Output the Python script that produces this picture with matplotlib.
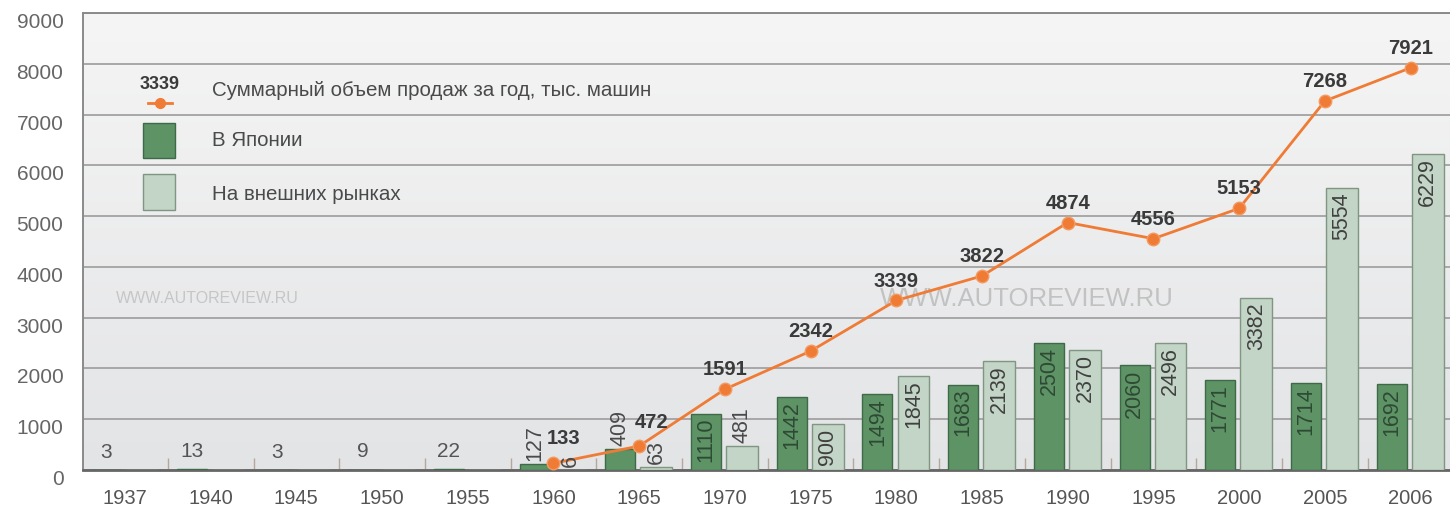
import numpy as np
import matplotlib
matplotlib.use("Agg")
import matplotlib.pyplot as plt
from matplotlib.lines import Line2D
from matplotlib.patches import Rectangle

plt.rcParams['font.family'] = ['Liberation Sans', 'DejaVu Sans']

# data (thousand cars)
years = ['1937', '1940', '1945', '1950', '1955', '1960', '1965', '1970',
         '1975', '1980', '1985', '1990', '1995', '2000', '2005', '2006']
japan = [3, 13, 3, 9, 22, 127, 409, 1110, 1442, 1494, 1683, 2504, 2060, 1771, 1714, 1692]
export = [0, 0, 0, 0, 0, 6, 63, 481, 900, 1845, 2139, 2370, 2496, 3382, 5554, 6229]
total = [None, None, None, None, None, 133, 472, 1591, 2342, 3339, 3822, 4874,
         4556, 5153, 7268, 7921]

legend_total = 'Суммарный объем продаж за год, тыс. машин'
legend_japan = 'В Японии'
legend_export = 'На внешних рынках'
watermark = 'WWW.AUTOREVIEW.RU'

DARK = '#5e9366'
DARK_EDGE = '#3f6a48'
LIGHT = '#c3d5c6'
LIGHT_EDGE = '#7f9683'
ORANGE = '#ef7b35'
TXT = '#4a4a4a'

fig = plt.figure(figsize=(14.5, 5.11), dpi=100)
ax = fig.add_axes([0.0572, 0.0802, 1 - 0.0572, 0.8943])

x = np.arange(len(years))
ax.set_xlim(-0.49, 15.46)
ax.set_ylim(0, 9000)

# background gradient
grad = np.linspace(0, 1, 256).reshape(-1, 1)
cmap = matplotlib.colors.LinearSegmentedColormap.from_list('bg', ['#f5f5f5', '#e3e4e6'])
ax.imshow(grad, extent=[0, 1, 0, 1], transform=ax.transAxes, cmap=cmap,
          aspect='auto', zorder=0)

ax.set_yticks(range(0, 9001, 1000))
ax.yaxis.grid(True, color='#a2a2a2', lw=1.3, zorder=1)
ax.set_axisbelow(True)
ax.tick_params(axis='y', length=0, pad=14, labelsize=15, labelcolor='#666666')
for lab in ax.get_yticklabels():
    lab.set_va('top')

ax.set_xticks(x)
ax.set_xticklabels(years)
ax.tick_params(axis='x', length=0, pad=14, labelsize=14.5, labelcolor='#555555')
ax.set_xticks(x[:-1] + 0.5, minor=True)
ax.tick_params(axis='x', which='minor', direction='in', length=9, color='#b8a59b', width=1)

for s in ['top', 'left']:
    ax.spines[s].set_color('#8a8a8a')
    ax.spines[s].set_linewidth(1.4)
ax.spines['right'].set_visible(False)
ax.spines['bottom'].set_color('#666666')
ax.spines['bottom'].set_linewidth(2)

# watermarks
ax.text(0.024, 0.375, watermark, transform=ax.transAxes, fontsize=11.5,
        color='#c6c6c6', va='center', ha='left', zorder=2)
ax.text(0.583, 0.375, watermark, transform=ax.transAxes, fontsize=18.5,
        color='#c2c2c2', va='center', ha='left', zorder=2)

# bars
b1 = ax.bar(x - 0.22, japan, width=0.35, color=DARK, edgecolor=DARK_EDGE, lw=1, zorder=3)
b2 = ax.bar(x + 0.2, export, width=0.37, color=LIGHT, edgecolor=LIGHT_EDGE, lw=1, zorder=3)

for bars, vals, col in [(b1, japan, '#2e4a35'), (b2, export, '#404040')]:
    for i, (rect, v) in enumerate(zip(bars, vals)):
        if v == 0:
            continue
        cx = rect.get_x() + rect.get_width() / 2
        if total[i] is None:
            ax.annotate(str(v), (cx, v), xytext=(0, 6), textcoords='offset points',
                        ha='center', va='bottom', fontsize=15,
                        color='#555555', zorder=5)
        elif v > 850:
            ax.annotate(str(v), (cx, v), xytext=(0, -3), textcoords='offset points',
                        ha='center', va='top', rotation=90, fontsize=15.5,
                        color=col, zorder=5)
        else:
            ax.annotate(str(v), (cx, v), xytext=(0, 2), textcoords='offset points',
                        ha='center', va='bottom', rotation=90, fontsize=15.5,
                        color='#4a4a4a', zorder=5)

# total line
tx = [xi for xi, t in zip(x, total) if t is not None]
ty = [t for t in total if t is not None]
ax.plot(tx, ty, color=ORANGE, lw=2, marker='o', ms=9, mfc=ORANGE, mec='#f39a63', zorder=4)
label_dx = {5: 7, 6: 9}
label_dy = {5: 18, 6: 17}
for xi, t in zip(x, total):
    if t is None:
        continue
    ax.annotate(str(t), (xi, t), xytext=(label_dx.get(int(xi), 0), label_dy.get(int(xi), 14)),
                textcoords='offset points', ha='center', va='center', fontsize=14.5,
                fontweight='bold', color='#3a3a3a', zorder=6)

# legend drawn by hand
ax.text(0.0563, 0.8436, '3339', transform=ax.transAxes, ha='center', va='center',
        fontsize=13, fontweight='bold', color='#3a3a3a', zorder=6)
ax.add_line(Line2D([0.0475, 0.0651], [0.804, 0.804], transform=ax.transAxes,
                   color=ORANGE, lw=2, zorder=6))
ax.add_line(Line2D([0.0563], [0.804], transform=ax.transAxes, marker='o', ms=7,
                   color=ORANGE, zorder=6))
ax.text(0.0944, 0.830, legend_total, transform=ax.transAxes, va='center', ha='left',
        fontsize=14.8, color=TXT, zorder=6)
ax.add_patch(Rectangle((0.0439, 0.683), 0.0234, 0.077, transform=ax.transAxes,
                       facecolor=DARK, edgecolor=DARK_EDGE, lw=1, zorder=6))
ax.text(0.0944, 0.720, legend_japan, transform=ax.transAxes, va='center', ha='left',
        fontsize=14.8, color=TXT, zorder=6)
ax.add_patch(Rectangle((0.0439, 0.570), 0.0234, 0.077, transform=ax.transAxes,
                       facecolor=LIGHT, edgecolor=LIGHT_EDGE, lw=1, zorder=6))
ax.text(0.0944, 0.6035, legend_export, transform=ax.transAxes, va='center', ha='left',
        fontsize=14.8, color=TXT, zorder=6)

fig.savefig('out.png', dpi=100, facecolor='white')
